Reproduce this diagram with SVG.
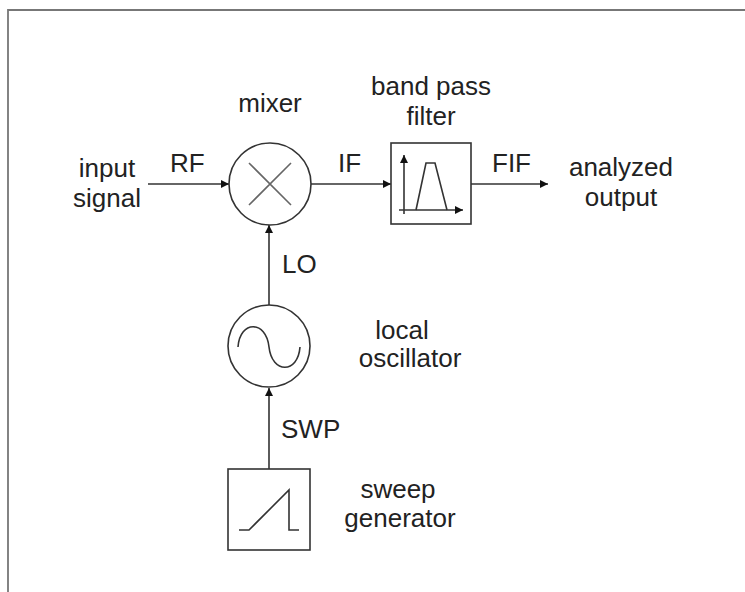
<svg xmlns="http://www.w3.org/2000/svg" width="745" height="592" viewBox="0 0 745 592">
<style>
.t{font-family:"Liberation Sans",Arial,sans-serif;font-size:26px;fill:#222}
.c{text-anchor:middle}
.s{fill:none;stroke:#333;stroke-width:1.6}
.g{fill:none;stroke:#666;stroke-width:1.6}
</style>
<defs>
<marker id="ah" viewBox="0 0 10 10" refX="10" refY="5" markerWidth="9" markerHeight="8" markerUnits="userSpaceOnUse" orient="auto">
<path d="M0,0 L10,5 L0,10 z" fill="#111"/>
</marker>
</defs>
<rect width="745" height="592" fill="#fff"/>
<path d="M8,592 V10 H745" fill="none" stroke="#777" stroke-width="1.8"/>
<g id="connectors">
<line class="s" x1="148" y1="184" x2="229" y2="184" marker-end="url(#ah)"/>
<line class="s" x1="311" y1="184" x2="391" y2="184" marker-end="url(#ah)"/>
<line class="s" x1="471" y1="184" x2="548" y2="184" marker-end="url(#ah)"/>
<line class="s" x1="269" y1="305" x2="269" y2="225" marker-end="url(#ah)"/>
<line class="s" x1="269" y1="469" x2="269" y2="388" marker-end="url(#ah)"/>
</g>
<g id="mixer">
<circle class="s" cx="270" cy="184" r="41"/>
<path class="g" d="M249,163 L291,205 M291,163 L249,205"/>
<text class="t c" x="270" y="112">mixer</text>
</g>
<g id="bandpass">
<rect class="s" x="391" y="143" width="80" height="81"/>
<line class="s" x1="404" y1="214" x2="404" y2="155" marker-end="url(#ah)"/>
<line class="s" x1="399" y1="210" x2="463" y2="210" marker-end="url(#ah)"/>
<path class="s" d="M416,210 L426,163 L435,163 L447,210"/>
<text class="t c" x="431" y="95">band pass</text>
<text class="t c" x="431" y="125">filter</text>
</g>
<g id="lo">
<circle class="s" cx="269" cy="346" r="41"/>
<path class="s" d="M238,347 C240,320 266,320 269,347 C272,374 298,374 300,347"/>
<text class="t c" x="402" y="339">local</text>
<text class="t c" x="410" y="367">oscillator</text>
</g>
<g id="sweep">
<rect class="s" x="228" y="469" width="82" height="81"/>
<path class="s" d="M239,530 L249,530 L289,490 L289,530 L299,530"/>
<text class="t c" x="398" y="498">sweep</text>
<text class="t c" x="400" y="527">generator</text>
</g>
<g id="labels">
<text class="t c" x="107" y="177">input</text>
<text class="t c" x="107" y="207">signal</text>
<text class="t" x="170" y="172">RF</text>
<text class="t" x="338" y="172">IF</text>
<text class="t" x="492" y="172">FIF</text>
<text class="t c" x="621" y="176">analyzed</text>
<text class="t c" x="621" y="206">output</text>
<text class="t" x="282" y="273">LO</text>
<text class="t" x="281" y="438">SWP</text>
</g>
</svg>
